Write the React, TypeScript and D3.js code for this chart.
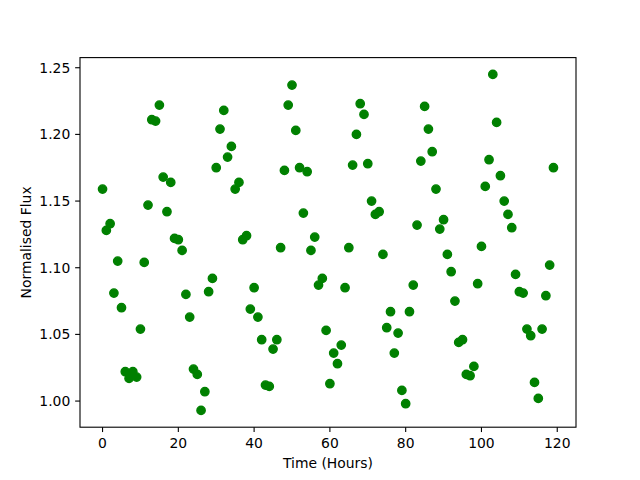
import React from "react";
import * as d3 from "d3";

const times: number[] = Array.from({ length: 120 }, (_, i) => i);
const flux: number[] = [
  1.159, 1.128, 1.133, 1.081, 1.105, 1.070, 1.022, 1.017, 1.022, 1.018,
  1.054, 1.104, 1.147, 1.211, 1.210, 1.222, 1.168, 1.142, 1.164, 1.122,
  1.121, 1.113, 1.080, 1.063, 1.024, 1.020, 0.993, 1.007, 1.082, 1.092,
  1.175, 1.204, 1.218, 1.183, 1.191, 1.159, 1.164, 1.121, 1.124, 1.069,
  1.085, 1.063, 1.046, 1.012, 1.011, 1.039, 1.046, 1.115, 1.173, 1.222,
  1.237, 1.203, 1.175, 1.141, 1.172, 1.113, 1.123, 1.087, 1.092, 1.053,
  1.013, 1.036, 1.028, 1.042, 1.085, 1.115, 1.177, 1.200, 1.223, 1.215,
  1.178, 1.150, 1.140, 1.142, 1.110, 1.055, 1.067, 1.036, 1.051, 1.008,
  0.998, 1.067, 1.087, 1.132, 1.180, 1.221, 1.204, 1.187, 1.159, 1.129,
  1.136, 1.110, 1.097, 1.075, 1.044, 1.046, 1.020, 1.019, 1.026, 1.088,
  1.116, 1.161, 1.181, 1.245, 1.209, 1.169, 1.150, 1.140, 1.130, 1.095,
  1.082, 1.081, 1.054, 1.049, 1.014, 1.002, 1.054, 1.079, 1.102, 1.175,
];
const xTicks: number[] = [0, 20, 40, 60, 80, 100, 120];
const yTicks: number[] = [1.0, 1.05, 1.1, 1.15, 1.2, 1.25];

export default function App() {
  const W = 640, H = 480;
  const left = 80, right = 576, top = 57.6, bottom = 427.2;
  const xMin = d3.min(times)!, xMax = d3.max(times)!;
  const yMin = d3.min(flux)!, yMax = d3.max(flux)!;
  const xm = (xMax - xMin) * 0.05, ym = (yMax - yMin) * 0.05;
  const x = d3.scaleLinear().domain([xMin - xm, xMax + xm]).range([left, right]);
  const y = d3.scaleLinear().domain([yMin - ym, yMax + ym]).range([bottom, top]);
  const font = "DejaVu Sans, sans-serif";
  const tickLen = 4.86;
  return (
    <svg width={W} height={H} style={{ position: "absolute", left: 0, top: 0, background: "#fff" }}>
      <rect x={0} y={0} width={W} height={H} fill="#fff" />
      <g>
        {times.map((t, i) => (
          <circle key={i} cx={x(t)} cy={y(flux[i])} r={4.17} fill="#008000" stroke="#008000" strokeWidth={1.39} />
        ))}
      </g>
      <rect x={left} y={top} width={right - left} height={bottom - top} fill="none" stroke="#000" strokeWidth={1.1} />
      {xTicks.map((t) => (
        <g key={t}>
          <line x1={x(t)} x2={x(t)} y1={bottom} y2={bottom + tickLen} stroke="#000" strokeWidth={1.1} />
          <text x={x(t)} y={bottom + 20.5} fontFamily={font} fontSize={13.9} textAnchor="middle" fill="#000">{t}</text>
        </g>
      ))}
      {yTicks.map((v) => (
        <g key={v}>
          <line x1={left - tickLen} x2={left} y1={y(v)} y2={y(v)} stroke="#000" strokeWidth={1.1} />
          <text x={left - 9.7} y={y(v)} dy="0.35em" fontFamily={font} fontSize={13.9} textAnchor="end" fill="#000">{v.toFixed(2)}</text>
        </g>
      ))}
      <text x={(left + right) / 2} y={468} fontFamily={font} fontSize={13.9} textAnchor="middle" fill="#000">Time (Hours)</text>
      <text transform={`translate(31,${(top + bottom) / 2}) rotate(-90)`} fontFamily={font} fontSize={13.9} textAnchor="middle" fill="#000">Normalised Flux</text>
    </svg>
  );
}
